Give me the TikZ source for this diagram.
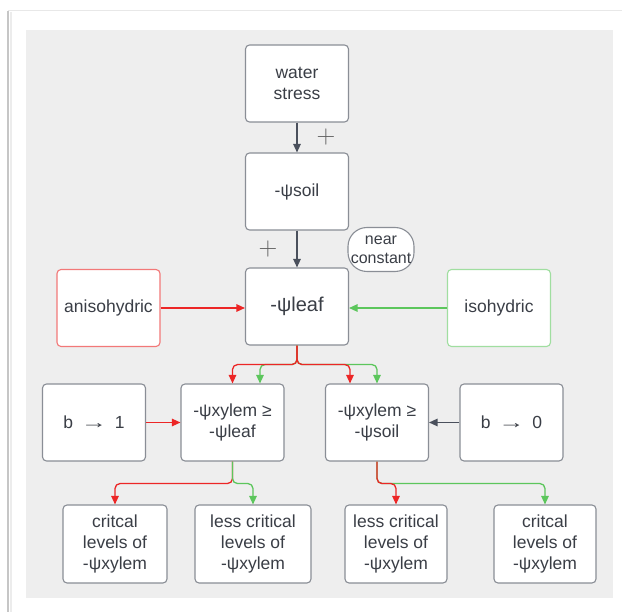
\documentclass[tikz,border=0pt]{standalone}
\usepackage{fontspec}
\newfontfamily\lsans{Liberation Sans}
\usetikzlibrary{arrows.meta,calc}
\definecolor{panel}{RGB}{238,238,238}
\definecolor{boxline}{RGB}{138,142,150}
\definecolor{txt}{RGB}{58,62,70}
\definecolor{redc}{RGB}{236,38,38}
\definecolor{greenc}{RGB}{92,198,92}
\definecolor{redlite}{RGB}{242,120,120}
\definecolor{greenlite}{RGB}{160,222,160}
\definecolor{darkc}{RGB}{74,80,92}
\newcommand{\longto}{\scalebox{1.5}[1]{→}}
\begin{document}
\begin{tikzpicture}[x=1pt,y=-1pt,
  box/.style={draw=boxline, line width=1.1pt, fill=white, rounded corners=4pt,
    minimum width=103pt, minimum height=77pt, inner sep=0pt, align=center,
    text=txt, font=\lsans\fontsize{17.5}{21}\selectfont},
  pill/.style={draw=boxline, line width=1.1pt, fill=white, rounded corners=19pt,
    minimum width=66pt, minimum height=44pt, inner sep=0pt, align=center,
    text=txt, font=\lsans\fontsize{16}{19}\selectfont},
  plus/.style={text=gray!75!black, inner sep=0pt, font=\fontsize{26}{26}\selectfont},
  link/.style={line width=1.3pt, rounded corners=5pt,
    -{Triangle[length=8.5pt,width=7.5pt]}},
  redline/.style={link, draw=redc},
  greenline/.style={link, draw=greenc},
  darkline/.style={link, draw=darkc}]
\useasboundingbox (0,0) rectangle (622,612);
% page frame and panel
\fill[white] (0,0) rectangle (622,612);
\draw[gray!18, line width=1pt] (8,11) -- (622,11);
\draw[gray!45, line width=1.5pt] (8,11) -- (8,612);
\draw[gray!15, line width=2pt] (10.5,12) -- (10.5,612);
\fill[panel] (26,30) rectangle (613,598);

% top chain
\node[box] (ws) at (297,83.5) {water\\stress};
\node[box] (soil) at (297,191.5) {-ψsoil};
\node[box, font=\lsans\fontsize{20}{23}\selectfont] (leaf) at (297,306.5) {-ψleaf};
\node[pill] (nc) at (381,249.5) {near\\constant};
\node[box, draw=redlite] (aniso) at (108.5,308) {anisohydric};
\node[box, draw=greenlite] (iso) at (499,308) {isohydric};

% middle row
\node[box] (b1) at (94,422.5) {b\hspace{3pt} \longto\hspace{3pt} 1};
\node[box] (xl) at (232.5,422.5) {-ψxylem ≥\\-ψleaf};
\node[box] (xs) at (377,422.5) {-ψxylem ≥\\-ψsoil};
\node[box] (b0) at (511.5,422.5) {b\hspace{3pt} \longto\hspace{3pt} 0};

% bottom row
\node[box, minimum height=78pt, minimum width=104pt] (c1) at (115,544) {critcal\\levels of\\-ψxylem};
\node[box, minimum height=78pt, minimum width=116pt] (lc1) at (253,544) {less critical\\levels of\\-ψxylem};
\node[box, minimum height=78pt, minimum width=102pt] (lc2) at (396,544) {less critical\\levels of\\-ψxylem};
\node[box, minimum height=78pt, minimum width=102pt] (c2) at (545,544) {critcal\\levels of\\-ψxylem};

% plus labels
\node[plus] (p1) at (326,137) {+};
\node[plus] (p2) at (268,249) {+};

% vertical chain
\draw[darkline] (ws) -- (soil);
\draw[darkline] (soil) -- (leaf);
\draw[redline] (aniso.east) -- (aniso.east -| leaf.west);
\draw[greenline] (iso.west) -- (iso.west -| leaf.east);

% branches from -ψleaf
\draw[greenline] (leaf.south) -- ++(0,19) -| ($(xl.north)+(27.5,0)$);
\draw[greenline] (leaf.south) -- ++(0,19) -| (xs.north);
\draw[redline] (leaf.south) -- ++(0,19) -| (xl.north);
\draw[redline] (leaf.south) -- ++(0,19) -| ($(xs.north)+(-27,0)$);

% side inputs
\draw[redline] (b1) -- (xl);
\draw[darkline] (b0) -- (xs);

% branches to the bottom row
\draw[redline] (xl.south) -- ++(0,22) -| (c1.north);
\draw[greenline] (xl.south) -- ++(0,22) -| (lc1.north);
\draw[greenline] (xs.south) -- ++(0,22) -| (c2.north);
\draw[redline] (xs.south) -- ++(0,22) -| (lc2.north);
\end{tikzpicture}
\end{document}
